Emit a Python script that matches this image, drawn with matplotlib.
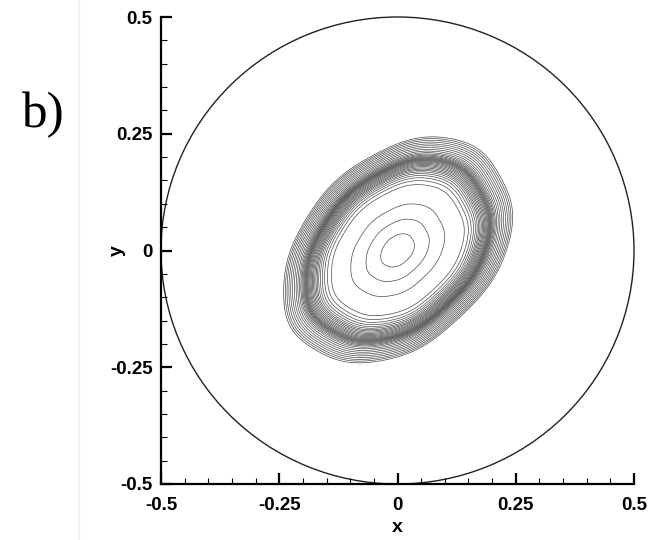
import numpy as np
import matplotlib
matplotlib.use("Agg")
import matplotlib.pyplot as plt
from matplotlib.patches import Circle
from matplotlib.lines import Line2D

# ---------------- data ----------------
tick_values = [-0.5, -0.25, 0.0, 0.25, 0.5]
tick_labels = ["-0.5", "-0.25", "0", "0.25", "0.5"]
domain_radius = 0.5

# elliptical vortex ring: centre, semi-axes of the outermost contour, tilt
ring_center = (0.0, 0.0)
semi_major = 0.278
semi_minor = 0.197
tilt_deg = 45.0

# contour levels (fraction of the outermost ellipse)
inner_levels = [0.147, 0.276, 0.41, 0.58]
ring_levels = [0.615, 0.64, 0.66, 0.677, 0.692, 0.705, 0.716, 0.727, 0.738,
               0.748, 0.758, 0.767, 0.776, 0.784, 0.791, 0.797, 0.803, 0.809,
               0.815, 0.822, 0.830, 0.839, 0.849, 0.861, 0.875, 0.890, 0.906,
               0.922, 0.938, 0.954, 0.970, 0.985, 1.0]
# small angular irregularities of the contours: (harmonic, amplitude, phase)
wobble_modes = [(3, 0.007, 0.4), (4, 0.005, 0.0), (5, 0.008, 1.3), (9, 0.005, 2.0)]

panel_label = "b)"

# ---------------- figure ----------------
plt.rcParams["axes.unicode_minus"] = False
W, H = 654, 540
fig = plt.figure(figsize=(W / 100, H / 100), dpi=100)
ax = fig.add_axes([161 / W, 1 - 484 / H, 473 / W, 467 / H])

g = np.linspace(-0.42, 0.42, 901)
X, Y = np.meshgrid(g, g)
t = np.deg2rad(tilt_deg)
dx, dy = X - ring_center[0], Y - ring_center[1]
u = dx * np.cos(t) + dy * np.sin(t)
v = -dx * np.sin(t) + dy * np.cos(t)
phi = np.arctan2(v / semi_minor, u / semi_major)
wob = np.ones_like(phi)
for k, amp, ph in wobble_modes:
    wob += amp * np.cos(k * phi + ph)
F = np.sqrt((u / semi_major) ** 2 + (v / semi_minor) ** 2) * wob

levels = sorted(inner_levels + ring_levels)
ax.contour(X, Y, F, levels=levels, colors="#4a4a4a", linewidths=0.5)

ax.add_patch(Circle((0, 0), domain_radius, fill=False, lw=1.0,
                    ec="#222222", clip_on=False))

ax.set_xlim(-0.5, 0.5)
ax.set_ylim(-0.5, 0.5)
for s in ("top", "right"):
    ax.spines[s].set_visible(False)
for s in ("left", "bottom"):
    ax.spines[s].set_linewidth(1.6)
    ax.spines[s].set_color("black")

ax.set_xticks(tick_values)
ax.set_xticklabels(tick_labels)
ax.set_yticks(tick_values)
ax.set_yticklabels(tick_labels)
ax.xaxis.set_minor_locator(matplotlib.ticker.MultipleLocator(0.05))
ax.yaxis.set_minor_locator(matplotlib.ticker.MultipleLocator(0.05))
ax.tick_params(which="major", direction="in", length=8, width=1.6, pad=9)
ax.tick_params(which="minor", direction="in", length=4.5, width=0.8)
ax.tick_params(axis="y", which="major", pad=6)
for lab in ax.get_xticklabels() + ax.get_yticklabels():
    lab.set_fontfamily("Liberation Sans")
    lab.set_fontweight("bold")
    lab.set_fontsize(13.5)

ax.set_xlabel("x", fontfamily="Liberation Sans", fontweight="bold",
              fontsize=14, labelpad=4)
ax.set_ylabel("y", fontfamily="Liberation Sans", fontweight="bold",
              fontsize=14)
ax.yaxis.set_label_coords((126 - 161) / 473, 0.5)

fig.text(21 / W, 1 - 127 / H, panel_label, fontfamily="Liberation Serif",
         fontsize=37, ha="left", va="baseline")
fig.add_artist(Line2D([79 / W, 79 / W], [0, 1], color="#eeeeee", lw=1.0))

fig.savefig("out.png", dpi=100)
